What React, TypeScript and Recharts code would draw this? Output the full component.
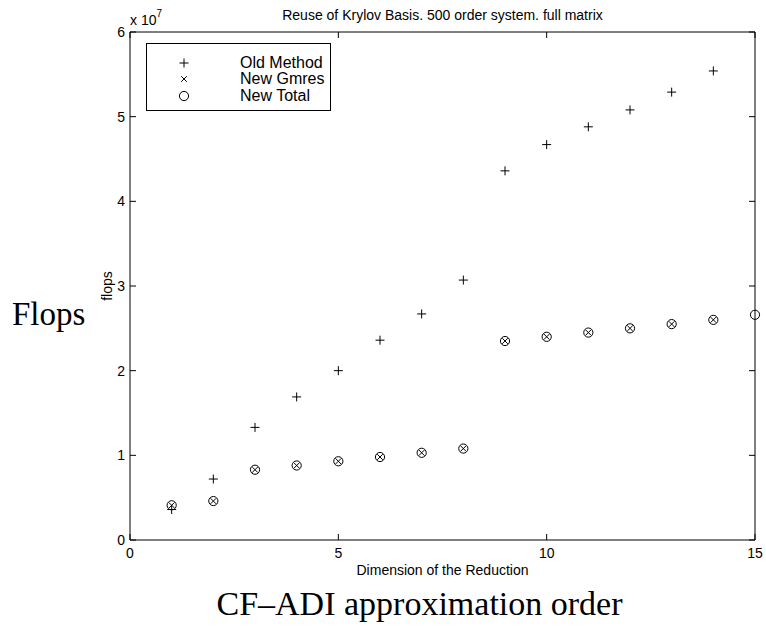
import { Label, Legend, Scatter, ScatterChart, XAxis, YAxis } from "recharts";

// reduction dimension for each run
const dims = [1, 2, 3, 4, 5, 6, 7, 8, 9, 10, 11, 12, 13, 14, 15];
// flops, in units of 1e7
const oldMethod = [0.36, 0.72, 1.33, 1.69, 2.0, 2.36, 2.67, 3.07, 4.36, 4.67, 4.88, 5.08, 5.29, 5.54];
const newGmres = [0.41, 0.46, 0.83, 0.88, 0.93, 0.98, 1.03, 1.08, 2.35, 2.4, 2.45, 2.5, 2.55, 2.6];
const newTotal = [0.41, 0.46, 0.83, 0.88, 0.93, 0.98, 1.03, 1.08, 2.35, 2.4, 2.45, 2.5, 2.55, 2.6, 2.66];

const xTicks = [0, 5, 10, 15];
const yTicks = [0, 1, 2, 3, 4, 5, 6];
const seriesNames = ["Old Method", "New Gmres", "New Total"];

const SANS = "'Liberation Sans', Arial, sans-serif";
const SERIF = "'Liberation Serif', 'Times New Roman', serif";
const INK = "#000";
const TICK_LEN = 6;

const toPoints = (ys: number[]) => ys.map((y, i) => ({ x: dims[i], y }));

const Plus = ({ cx, cy }: any) => (
  <path d={`M${cx - 4.5},${cy}H${cx + 4.5}M${cx},${cy - 4.5}V${cy + 4.5}`} stroke={INK} strokeWidth={1} />
);
const Cross = ({ cx, cy }: any) => (
  <path
    d={`M${cx - 2.8},${cy - 2.8}L${cx + 2.8},${cy + 2.8}M${cx - 2.8},${cy + 2.8}L${cx + 2.8},${cy - 2.8}`}
    stroke={INK}
    strokeWidth={1}
  />
);
const Ring = ({ cx, cy }: any) => <circle cx={cx} cy={cy} r={4.6} fill="none" stroke={INK} strokeWidth={1} />;

const markers = [Plus, Cross, Ring];

// ticks point inward, labels sit outside the frame
const BottomTick = ({ x, y, payload }: any) => (
  <g>
    <line x1={x} y1={y} x2={x} y2={y - TICK_LEN} stroke={INK} />
    <text x={x} y={y + 18} textAnchor="middle" fontFamily={SANS} fontSize={14} fill={INK}>
      {payload.value}
    </text>
  </g>
);
const TopTick = ({ x, y }: any) => <line x1={x} y1={y} x2={x} y2={y + TICK_LEN} stroke={INK} />;
const LeftTick = ({ x, y, payload }: any) => (
  <g>
    <line x1={x} y1={y} x2={x + TICK_LEN} y2={y} stroke={INK} />
    <text x={x - 5} y={y + 5} textAnchor="end" fontFamily={SANS} fontSize={14} fill={INK}>
      {payload.value}
    </text>
  </g>
);
const RightTick = ({ x, y }: any) => <line x1={x} y1={y} x2={x - TICK_LEN} y2={y} stroke={INK} />;

const LegendBox = () => (
  <div
    style={{
      width: 185,
      height: 68,
      border: `1px solid ${INK}`,
      background: "#fff",
      fontFamily: SANS,
      fontSize: 16,
      lineHeight: "16.5px",
      paddingTop: 10.5,
      boxSizing: "border-box",
    }}
  >
    {seriesNames.map((name, i) => {
      const M = markers[i];
      return (
        <div key={name} style={{ display: "flex", alignItems: "center", height: 16.5 }}>
          <svg width={93} height={16} style={{ flex: "none" }}>
            <M cx={37} cy={8} />
          </svg>
          <span>{name}</span>
        </div>
      );
    })}
  </div>
);

export default function App() {
  return (
    <div style={{ position: "absolute", left: 0, top: 0, width: 766, height: 630, background: "#fff" }}>
      <ScatterChart width={766} height={630} margin={{ top: 31, right: 10, bottom: 70, left: 110 }}>
        <XAxis
          xAxisId="bottom"
          type="number"
          dataKey="x"
          domain={[0, 15]}
          ticks={xTicks}
          tickSize={0}
          tickMargin={0}
          tick={<BottomTick />}
          tickLine={false}
          axisLine={{ stroke: INK }}
          height={20}
        >
          <Label
            content={({ viewBox }: any) => (
              <text
                x={viewBox.x + viewBox.width / 2}
                y={575}
                textAnchor="middle"
                fontFamily={SANS}
                fontSize={14}
                fill={INK}
              >
                Dimension of the Reduction
              </text>
            )}
          />
        </XAxis>
        <XAxis
          xAxisId="top"
          orientation="top"
          type="number"
          dataKey="x"
          domain={[0, 15]}
          ticks={xTicks}
          tickSize={0}
          tickMargin={0}
          tick={<TopTick />}
          tickLine={false}
          axisLine={{ stroke: INK }}
          height={1}
        >
          <Label
            content={({ viewBox }: any) => (
              <text
                x={viewBox.x + viewBox.width / 2}
                y={20}
                textAnchor="middle"
                fontFamily={SANS}
                fontSize={14}
                fill={INK}
              >
                Reuse of Krylov Basis. 500 order system. full matrix
              </text>
            )}
          />
        </XAxis>
        <YAxis
          yAxisId="left"
          type="number"
          dataKey="y"
          domain={[0, 6]}
          ticks={yTicks}
          tickSize={0}
          tickMargin={0}
          tick={<LeftTick />}
          tickLine={false}
          axisLine={{ stroke: INK }}
          width={20}
        >
          <Label
            content={({ viewBox }: any) => (
              <g>
                <text
                  transform={`translate(${viewBox.x + 2},${viewBox.y + viewBox.height / 2}) rotate(-90)`}
                  textAnchor="middle"
                  fontFamily={SANS}
                  fontSize={14}
                  fill={INK}
                >
                  flops
                </text>
                <text x={viewBox.x + 20} y={25} fontFamily={SANS} fontSize={14} fill={INK}>
                  x 10
                  <tspan dy={-8} fontSize={10}>
                    7
                  </tspan>
                </text>
              </g>
            )}
          />
        </YAxis>
        <YAxis
          yAxisId="right"
          orientation="right"
          type="number"
          dataKey="y"
          domain={[0, 6]}
          ticks={yTicks}
          tickSize={0}
          tickMargin={0}
          tick={<RightTick />}
          tickLine={false}
          axisLine={{ stroke: INK }}
          width={1}
        />
        <Legend
          layout="horizontal"
          verticalAlign="middle"
          content={<LegendBox />}
          wrapperStyle={{ left: 146, top: 43, width: 185, height: 68 }}
        />
        <Scatter
          name={seriesNames[0]}
          data={toPoints(oldMethod)}
          xAxisId="bottom"
          yAxisId="left"
          shape={<Plus />}
          isAnimationActive={false}
        />
        <Scatter
          name={seriesNames[1]}
          data={toPoints(newGmres)}
          xAxisId="bottom"
          yAxisId="left"
          shape={<Cross />}
          isAnimationActive={false}
        />
        {/* same domain on both pairs, so the top/right axes carry this series */}
        <Scatter
          name={seriesNames[2]}
          data={toPoints(newTotal)}
          xAxisId="top"
          yAxisId="right"
          shape={<Ring />}
          isAnimationActive={false}
        />
      </ScatterChart>
      <div
        style={{
          position: "absolute",
          left: 12,
          top: 297,
          fontFamily: SERIF,
          fontSize: 33,
          lineHeight: "34px",
          color: INK,
        }}
      >
        Flops
      </div>
      <div
        style={{
          position: "absolute",
          left: 0,
          width: 839,
          top: 587,
          textAlign: "center",
          fontFamily: SERIF,
          fontSize: 34,
          lineHeight: "34px",
          color: INK,
        }}
      >
        CF–ADI approximation order
      </div>
    </div>
  );
}
